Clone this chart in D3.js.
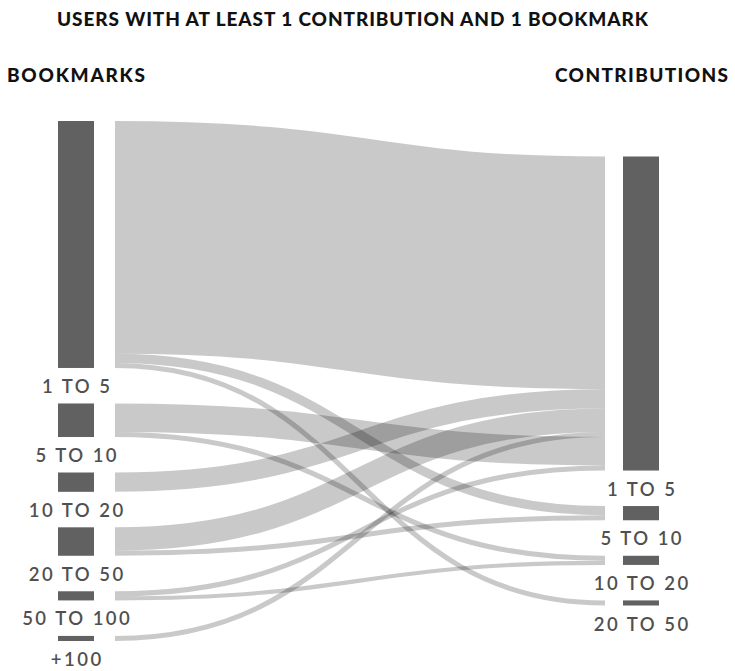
<!DOCTYPE html>
<html>
<head>
<meta charset="utf-8">
<script src="https://cdn.jsdelivr.net/npm/d3@7"></script>
<style>
  html, body { margin: 0; padding: 0; background: #fff; }
  svg { display: block; }
</style>
</head>
<body>
<svg id="chart" width="735" height="671"></svg>
<script>
// ---- data ----
const title = "USERS WITH AT LEAST 1 CONTRIBUTION AND 1 BOOKMARK";
const leftHeader = "BOOKMARKS";
const rightHeader = "CONTRIBUTIONS";
const leftLabels = ["1 TO 5", "5 TO 10", "10 TO 20", "20 TO 50", "50 TO 100", "+100"];
const rightLabels = ["1 TO 5", "5 TO 10", "10 TO 20", "20 TO 50"];
// links: bookmark group (left) -> contribution group (right)
const linkSources = [0, 0, 0, 1, 1, 2, 3, 3, 4, 4, 5];
const linkTargets = [0, 1, 3, 0, 2, 0, 0, 1, 0, 2, 0];
const linkValues  = [229, 9, 5, 28, 5, 19, 23, 5, 5, 4, 5];
// stacking order of the links where they enter the right-hand nodes
const targetStackOrder = [0, 5, 6, 10, 3, 8, 1, 7, 4, 9, 2];

// ---- layout ----
const svg = d3.select("#chart");
const chartTop = 121, chartBottom = 641, pad = 35.5;
const nodeW = 36, linkGap = 21;
const colX = d3.scaleLinear().domain([0, 1]).range([58, 623]);

const links = linkValues.map((v, i) => ({ s: linkSources[i], t: linkTargets[i], v, i }));
const leftVals = leftLabels.map((_, i) => d3.sum(links.filter(l => l.s === i), l => l.v));
const rightVals = rightLabels.map((_, i) => d3.sum(links.filter(l => l.t === i), l => l.v));
const total = d3.sum(leftVals);
const k = (chartBottom - chartTop - (leftLabels.length - 1) * pad) / total;
const h = d3.scaleLinear().domain([0, total]).range([0, total * k]);

function stackNodes(vals, start) {
  let y = start;
  return vals.map(v => { const n = { y0: y, y1: y + h(v) }; y = n.y1 + pad; return n; });
}
const leftNodes = stackNodes(leftVals, chartTop);
const rightH = h(total) + (rightLabels.length - 1) * pad;
const rightNodes = stackNodes(rightVals, (chartTop + chartBottom) / 2 - rightH / 2);

const sOff = leftNodes.map(n => n.y0);
links.forEach(l => { l.ys = sOff[l.s] + h(l.v) / 2; sOff[l.s] += h(l.v); });
const tOff = rightNodes.map(n => n.y0);
targetStackOrder.forEach(idx => { const l = links[idx]; l.yt = tOff[l.t] + h(l.v) / 2; tOff[l.t] += h(l.v); });

const x0 = colX(0), x1 = colX(1);
const linkGen = d3.linkHorizontal();

// ---- links ----
svg.append("g")
  .attr("fill", "none")
  .attr("stroke", "rgba(0,0,0,0.21)")
  .selectAll("path")
  .data(links)
  .join("path")
  .attr("d", l => linkGen({ source: [x0 + nodeW + linkGap, l.ys], target: [x1 - linkGap + 3, l.yt] }))
  .attr("stroke-width", l => h(l.v));

// ---- nodes ----
function drawNodes(nodes, x, labels) {
  const g = svg.append("g");
  g.selectAll("rect").data(nodes).join("rect")
    .attr("x", x).attr("y", d => d.y0)
    .attr("width", nodeW).attr("height", d => d.y1 - d.y0)
    .attr("fill", "#616161");
  g.selectAll("text").data(nodes).join("text")
    .attr("x", x + nodeW / 2 + 1.25)
    .attr("y", d => d.y1 + 25)
    .attr("text-anchor", "middle")
    .attr("font-family", "Lato, 'Open Sans', sans-serif")
    .attr("font-weight", 600)
    .attr("font-size", 18.5)
    .attr("letter-spacing", "2.5px")
    .attr("fill", "#505050")
    .text((d, i) => labels[i]);
}
drawNodes(leftNodes, x0, leftLabels);
drawNodes(rightNodes, x1, rightLabels);

// ---- titles ----
const headFont = "Lato, 'Open Sans', sans-serif";
svg.append("text")
  .attr("x", 57).attr("y", 26)
  .attr("font-family", headFont).attr("font-weight", 900).attr("font-size", 19)
  .attr("textLength", 591).attr("lengthAdjust", "spacing")
  .attr("fill", "#111")
  .text(title);
svg.append("text")
  .attr("x", 7).attr("y", 82)
  .attr("font-family", headFont).attr("font-weight", 900).attr("font-size", 19)
  .attr("textLength", 138).attr("lengthAdjust", "spacing")
  .attr("fill", "#111")
  .text(leftHeader);
svg.append("text")
  .attr("x", 555).attr("y", 82)
  .attr("font-family", headFont).attr("font-weight", 900).attr("font-size", 19)
  .attr("textLength", 173).attr("lengthAdjust", "spacing")
  .attr("fill", "#111")
  .text(rightHeader);
</script>
</body>
</html>
